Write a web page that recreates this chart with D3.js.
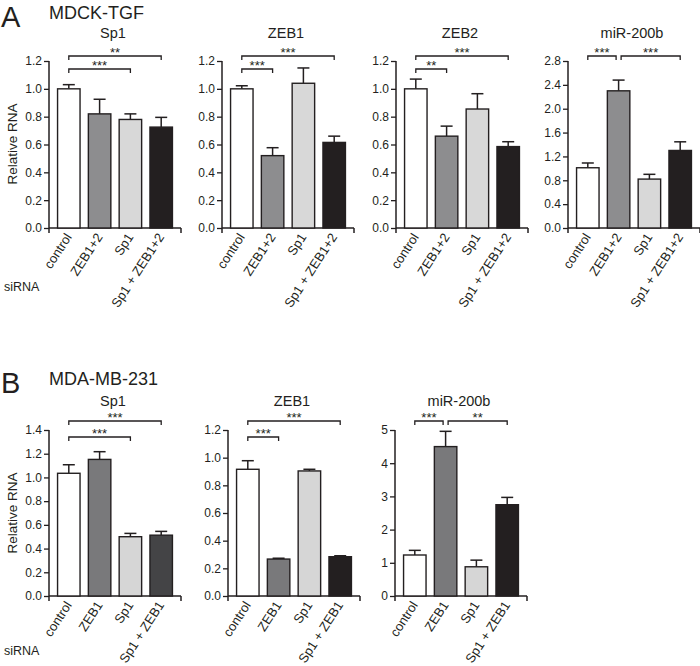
<!DOCTYPE html>
<html><head><meta charset="utf-8">
<script src="https://cdn.jsdelivr.net/npm/d3@7"></script>
<style>
html,body{margin:0;padding:0;background:#fff;}
svg{display:block;font-family:"Liberation Sans",Arial,sans-serif;}
</style></head>
<body><svg id="c" width="700" height="666"></svg>
<script>
// ---------- data ----------
const catsA = ["control", "ZEB1+2", "Sp1", "Sp1 + ZEB1+2"];
const catsB = ["control", "ZEB1", "Sp1", "Sp1 + ZEB1"];

const aSp1Mean  = [1.00, 0.82, 0.78, 0.725];
const aSp1Err   = [0.03, 0.105, 0.04, 0.07];
const aZeb1Mean = [1.00, 0.52, 1.04, 0.615];
const aZeb1Err  = [0.022, 0.057, 0.11, 0.045];
const aZeb2Mean = [1.00, 0.66, 0.855, 0.585];
const aZeb2Err  = [0.07, 0.072, 0.11, 0.035];
const aMirMean  = [1.01, 2.30, 0.82, 1.30];
const aMirErr   = [0.08, 0.18, 0.08, 0.145];

const bSp1Mean  = [1.035, 1.152, 0.50, 0.513];
const bSp1Err   = [0.072, 0.065, 0.028, 0.032];
const bZeb1Mean = [0.916, 0.267, 0.904, 0.284];
const bZeb1Err  = [0.062, 0.006, 0.012, 0.007];
const bMirMean  = [1.235, 4.50, 0.88, 2.75];
const bMirErr   = [0.14, 0.46, 0.20, 0.22];

const ticks12 = [0, 0.2, 0.4, 0.6, 0.8, 1.0, 1.2];
const ticks14 = [0, 0.2, 0.4, 0.6, 0.8, 1.0, 1.2, 1.4];
const ticks28 = [0, 0.4, 0.8, 1.2, 1.6, 2.0, 2.4, 2.8];
const ticks5  = [0, 1, 2, 3, 4, 5];

// significance: [from index, to index, label, level(0 = upper,1 = lower)]
const aSp1Sig  = [[0, 3, "**", 0], [0, 2, "***", 1]];
const aZeb1Sig = [[0, 3, "***", 0], [0, 1, "***", 1]];
const aZeb2Sig = [[0, 3, "***", 0], [0, 1, "**", 1]];
const aMirSig  = [[0, 1, "***", 0], [1, 3, "***", 0]];
const bSp1Sig  = [[0, 3, "***", 0], [0, 2, "***", 1]];
const bZeb1Sig = [[0, 3, "***", 0], [0, 1, "***", 1]];
const bMirSig  = [[0, 1, "***", 0], [1, 3, "**", 0]];

const colA  = ["#ffffff", "#8d8d8f", "#d8d8d8", "#231f20"];
const colB1 = ["#ffffff", "#79797b", "#d6d6d6", "#444446"];
const colB2 = ["#ffffff", "#79797b", "#d6d6d6", "#231f20"];

// ---------- drawing ----------
const svg = d3.select("#c");
const ink = "#231f20";

function panel(o) {
  const g = svg.append("g");
  const x = d3.scaleBand().domain(o.cats).range([o.left, o.left + 132])
    .paddingInner(0.27).paddingOuter(0.278);
  const y = d3.scaleLinear().domain([0, o.ticks[o.ticks.length - 1]]).range([o.bottom, o.top]);

  // y axis
  const ya = g.append("g").attr("transform", `translate(${o.left},0)`)
    .call(d3.axisLeft(y).tickValues(o.ticks).tickSize(5).tickSizeOuter(0).tickPadding(2)
      .tickFormat(o.fmt));
  ya.select(".domain").remove();
  ya.selectAll(".tick line").attr("stroke", ink).attr("stroke-width", 1.3);
  ya.selectAll(".tick text").attr("fill", ink).style("font-size", "12px")
    .style("font-family", '"Liberation Sans",Arial,sans-serif');
  g.append("line").attr("x1", o.left).attr("x2", o.left)
    .attr("y1", y(o.ticks[o.ticks.length - 1])).attr("y2", o.bottom + 5)
    .attr("stroke", ink).attr("stroke-width", 1.5);
  // x axis
  g.append("line").attr("x1", o.left).attr("x2", o.left + 132)
    .attr("y1", o.bottom).attr("y2", o.bottom).attr("stroke", ink).attr("stroke-width", 1.5);
  g.append("line").attr("x1", o.left + 132).attr("x2", o.left + 132)
    .attr("y1", o.bottom).attr("y2", o.bottom + 5).attr("stroke", ink).attr("stroke-width", 1.5);

  const cx = c => x(c) + x.bandwidth() / 2;
  // error bars
  o.cats.forEach((c, i) => {
    const top = y(o.mean[i] + o.err[i]);
    g.append("line").attr("x1", cx(c)).attr("x2", cx(c)).attr("y1", y(o.mean[i])).attr("y2", top)
      .attr("stroke", ink).attr("stroke-width", 1.5);
    g.append("line").attr("x1", cx(c) - 6).attr("x2", cx(c) + 6).attr("y1", top).attr("y2", top)
      .attr("stroke", ink).attr("stroke-width", 1.5);
  });
  // bars
  g.selectAll("rect.bar").data(o.cats).enter().append("rect").attr("class", "bar")
    .attr("x", c => x(c)).attr("width", x.bandwidth())
    .attr("y", (c, i) => y(o.mean[i])).attr("height", (c, i) => o.bottom - y(o.mean[i]))
    .attr("fill", (c, i) => o.colors[i]).attr("stroke", ink).attr("stroke-width", 1.4);

  // x labels
  o.cats.forEach(c => {
    g.append("text").attr("transform", `translate(${cx(c) + 3.5},${o.bottom + 9}) rotate(-57)`)
      .attr("text-anchor", "end").attr("fill", ink).style("font-size", "13px").text(c);
  });

  // title
  g.append("text").attr("x", o.left + 64).attr("y", o.titleY).attr("text-anchor", "middle")
    .attr("fill", ink).style("font-size", "14.5px").text(o.title);

  // significance brackets
  const shared = {};
  o.sig.forEach(s => { shared[s[0] + "_" + s[3]] = (shared[s[0] + "_" + s[3]] || 0) + 1; shared[s[1] + "_" + s[3]] = (shared[s[1] + "_" + s[3]] || 0) + 1; });
  o.sig.forEach(s => {
    let x1 = cx(o.cats[s[0]]), x2 = cx(o.cats[s[1]]);
    if (shared[s[0] + "_" + s[3]] > 1) x1 += 2.5;
    if (shared[s[1] + "_" + s[3]] > 1) x2 -= 2.5;
    const yy = s[3] === 0 ? o.top + o.upper : o.top + o.lower;
    g.append("path").attr("d", `M${x1},${yy + 4}V${yy}H${x2}V${yy + 4}`)
      .attr("fill", "none").attr("stroke", ink).attr("stroke-width", 1.3);
    g.append("text").attr("x", (x1 + x2) / 2).attr("y", yy + 1).attr("text-anchor", "middle")
      .attr("fill", ink).style("font-size", "13px").text(s[2]);
  });
}

const f1 = d3.format(".1f"), f0 = d3.format("d");
const A = { top: 61, bottom: 228, upper: -5, lower: 8, titleY: 38 };
const B = { top: 430, bottom: 596, upper: -9, lower: 7, titleY: 406 };

panel({ ...A, left: 49,  cats: catsA, mean: aSp1Mean,  err: aSp1Err,  ticks: ticks12, fmt: f1, colors: colA, title: "Sp1", sig: aSp1Sig });
panel({ ...A, left: 222, cats: catsA, mean: aZeb1Mean, err: aZeb1Err, ticks: ticks12, fmt: f1, colors: colA, title: "ZEB1", sig: aZeb1Sig });
panel({ ...A, left: 396, cats: catsA, mean: aZeb2Mean, err: aZeb2Err, ticks: ticks12, fmt: f1, colors: colA, title: "ZEB2", sig: aZeb2Sig });
panel({ ...A, left: 568, cats: catsA, mean: aMirMean,  err: aMirErr,  ticks: ticks28, fmt: f1, colors: colA, title: "miR-200b", sig: aMirSig });

panel({ ...B, left: 49,  cats: catsB, mean: bSp1Mean,  err: bSp1Err,  ticks: ticks14, fmt: f1, colors: colB1, title: "Sp1", sig: bSp1Sig });
panel({ ...B, left: 228, cats: catsB, mean: bZeb1Mean, err: bZeb1Err, ticks: ticks12, fmt: f1, colors: colB2, title: "ZEB1", sig: bZeb1Sig });
panel({ ...B, left: 395, cats: catsB, mean: bMirMean,  err: bMirErr,  ticks: ticks5,  fmt: f0, colors: colB2, title: "miR-200b", sig: bMirSig });

// panel letters & headings
function txt(x, y, s, size) {
  return svg.append("text").attr("x", x).attr("y", y).attr("fill", ink).style("font-size", size + "px").text(s);
}
txt(1, 27, "A", 29);
txt(49, 19, "MDCK-TGF", 18);
txt(1, 393, "B", 29);
txt(49, 385, "MDA-MB-231", 18);
svg.append("text").attr("transform", "translate(17,144) rotate(-90)").attr("text-anchor", "middle")
  .attr("fill", ink).style("font-size", "13.5px").text("Relative RNA");
svg.append("text").attr("transform", "translate(17,513) rotate(-90)").attr("text-anchor", "middle")
  .attr("fill", ink).style("font-size", "13.5px").text("Relative RNA");
txt(4, 291, "siRNA", 12.5);
txt(4, 655, "siRNA", 12.5);
</script>
</body></html>
